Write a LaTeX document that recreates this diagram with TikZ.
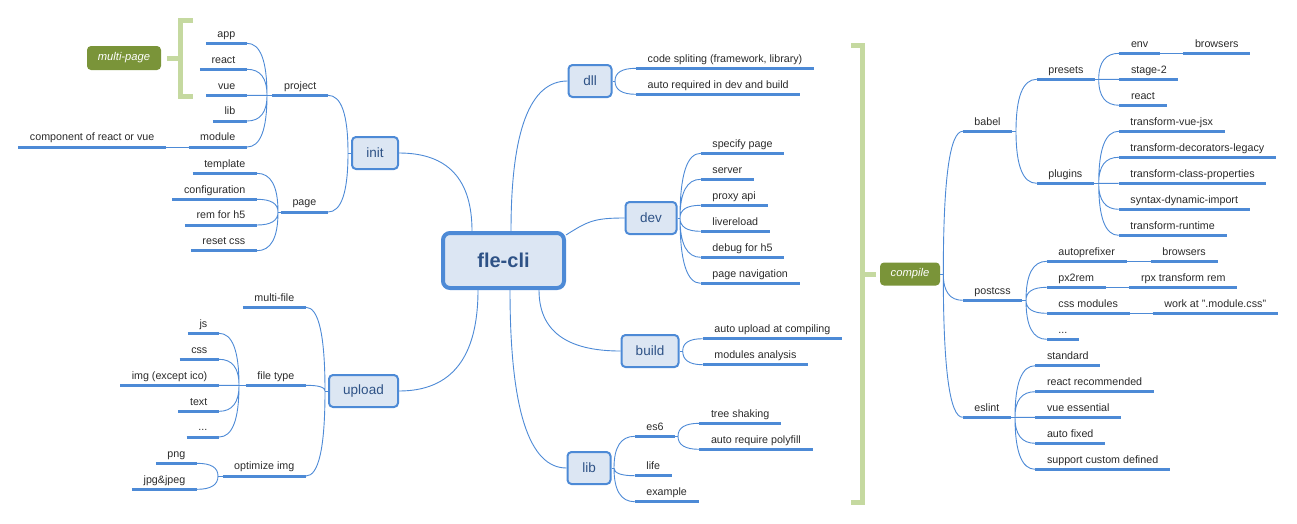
\documentclass[tikz,border=0pt]{standalone}
\usepackage{fontspec}
\setmainfont{Liberation Sans}
\usepackage{xcolor}
\usetikzlibrary{calc}
\definecolor{mapblue}{HTML}{4D8AD6}
\definecolor{boxfill}{HTML}{DCE6F3}
\definecolor{boxtext}{HTML}{2E5286}
\definecolor{leaftext}{HTML}{2A2A2A}
\definecolor{tagfill}{HTML}{7A9439}
\definecolor{bracketgreen}{HTML}{C5D9A0}
\tikzset{
  uline/.style={draw=mapblue, line width=3pt},
  leaf/.style={font=\fontsize{10.7}{12}\selectfont, text=leaftext, inner xsep=11.5pt, inner ysep=3.5pt,
    text height=8pt, text depth=2.5pt,
    append after command={(\tikzlastnode.south west) edge[uline] (\tikzlastnode.south east)}},
  link/.style={draw=mapblue, line width=.9pt, to path={.. controls
    ($(\tikztostart)!.667!(\tikztostart |- \tikztotarget)$) and
    ($(\tikztotarget)!.667!(\tikztostart |- \tikztotarget)$) .. (\tikztotarget)}},
  thin/.style={draw=mapblue, line width=.9pt},
  subbox/.style={draw=mapblue, fill=boxfill, line width=2pt, rounded corners=4pt, text=boxtext,
    font=\fontsize{13.5}{15}\selectfont, inner xsep=14pt, minimum height=32pt},
  rootbox/.style={draw=mapblue, fill=boxfill, line width=4pt, rounded corners=7pt, text=boxtext,
    font=\fontsize{20}{22}\selectfont\bfseries, minimum width=121pt, minimum height=55pt},
  tag/.style={fill=tagfill, rounded corners=4pt, text=white, font=\fontsize{11.2}{12}\selectfont\itshape},
  bracket/.style={draw=bracketgreen, line width=5pt}
}
\begin{document}
\begin{tikzpicture}[x=1pt, y=-1pt]
  \useasboundingbox (0,0) rectangle (1297,523);

  % centre and main topics
  \node[rootbox] (fle) at (503.5,260.5) {fle-cli};
  \node[subbox, minimum width=46pt] (init) at (375,153) {init};
  \node[subbox, minimum width=69pt] (upload) at (363.5,391) {upload};
  \node[subbox, minimum width=43pt] (dll) at (590,81) {dll};
  \node[subbox, minimum width=51pt] (dev) at (651,218) {dev};
  \node[subbox, minimum width=57pt] (build) at (650,351) {build};
  \node[subbox, minimum width=43pt] (lib) at (589,468) {lib};

  \draw[link] ([xshift=31pt]fle.north west) to (init.east);
  \draw[link] ([xshift=70pt]fle.north west) to (dll.west);
  \draw[thin] ([yshift=-4pt]fle.north east) .. controls +(22,-14) and +(-30,0) .. (dev.west);
  \draw[link] ([xshift=98pt]fle.south west) to (build.west);
  \draw[link] ([xshift=69pt]fle.south west) to (lib.west);
  \draw[link] ([xshift=37pt]fle.south west) to (upload.east);

  % init
  \coordinate (jinit) at (348,153);
  \node[leaf, anchor=south east] (project) at (328,95.3) {project};
  \node[leaf, anchor=south east] (page) at (328,212) {page};
  \draw[thin] (init.west) -- (jinit);
  \draw[link] (jinit) to (project.south east) (jinit) to (page.south east);

  \coordinate (jproject) at (267,95.3);
  \node[leaf, anchor=south east] (app) at (247,43.3) {app};
  \node[leaf, anchor=south east] (react) at (247,69.3) {react};
  \node[leaf, anchor=south east] (vue) at (247,95.3) {vue};
  \node[leaf, anchor=south east] (libproj) at (247,121) {lib};
  \node[leaf, anchor=south east] (module) at (247,147) {module};
  \node[leaf, anchor=south east] (component) at (166,147) {component of react or vue};
  \draw[thin] (project.south west) -- (jproject);
  \draw[link] (jproject) to (app.south east) (jproject) to (react.south east)
    (jproject) to (vue.south east) (jproject) to (libproj.south east) (jproject) to (module.south east);
  \draw[thin] (component.south east) -- (module.south west);

  \coordinate (jpage) at (278,212);
  \node[leaf, anchor=south east] (template) at (257,173.3) {template};
  \node[leaf, anchor=south east] (config) at (257,199.3) {configuration};
  \node[leaf, anchor=south east] (rem) at (257,225) {rem for h5};
  \node[leaf, anchor=south east] (reset) at (257,250.7) {reset css};
  \draw[thin] (page.south west) -- (jpage);
  \draw[link] (jpage) to (template.south east) (jpage) to (config.south east)
    (jpage) to (rem.south east) (jpage) to (reset.south east);

  % multi-page summary
  \node[tag, minimum width=74pt, minimum height=24pt] (multipage) at (124,58) {multi-page};
  \draw[bracket] (193,20.5) -- (180.5,20.5) -- (180.5,96.5) -- (193,96.5);
  \draw[bracket] (180.5,58) -- (166.5,58);

  % upload
  \coordinate (jupload) at (325,391);
  \node[leaf, anchor=south east] (multifile) at (306,307.3) {multi-file};
  \node[leaf, anchor=south east] (filetype) at (306,385.3) {file type};
  \node[leaf, anchor=south east] (optimg) at (306,476) {optimize img};
  \draw[thin] (upload.west) -- (jupload);
  \draw[link] (jupload) to (multifile.south east) (jupload) to (filetype.south east) (jupload) to (optimg.south east);

  \coordinate (jfiletype) at (239,385.3);
  \node[leaf, anchor=south east] (js) at (219,333.3) {js};
  \node[leaf, anchor=south east] (css) at (219,359.3) {css};
  \node[leaf, anchor=south east] (img) at (219,385.3) {img (except ico)};
  \node[leaf, anchor=south east] (text) at (219,411.3) {text};
  \node[leaf, anchor=south east] (etc) at (219,437) {...};
  \draw[thin] (filetype.south west) -- (jfiletype);
  \draw[link] (jfiletype) to (js.south east) (jfiletype) to (css.south east) (jfiletype) to (img.south east)
    (jfiletype) to (text.south east) (jfiletype) to (etc.south east);

  \coordinate (joptimg) at (218,476);
  \node[leaf, anchor=south east] (png) at (197,463.3) {png};
  \node[leaf, anchor=south east] (jpg) at (197,489.3) {jpg\&jpeg};
  \draw[thin] (optimg.south west) -- (joptimg);
  \draw[link] (joptimg) to (png.south east) (joptimg) to (jpg.south east);

  % dll
  \coordinate (jdll) at (615,81);
  \node[leaf, anchor=south west] (codesplit) at (636,68.3) {code spliting (framework, library)};
  \node[leaf, anchor=south west] (autoreq) at (636,94.3) {auto required in dev and build};
  \draw[thin] (dll.east) -- (jdll);
  \draw[link] (jdll) to (codesplit.south west) (jdll) to (autoreq.south west);

  % dev
  \coordinate (jdev) at (680,218);
  \node[leaf, anchor=south west] (specify) at (700.7,153.3) {specify page};
  \node[leaf, anchor=south west] (server) at (700.7,179.3) {server};
  \node[leaf, anchor=south west] (proxy) at (700.7,205.3) {proxy api};
  \node[leaf, anchor=south west] (livereload) at (700.7,231.3) {livereload};
  \node[leaf, anchor=south west] (debug) at (700.7,257.3) {debug for h5};
  \node[leaf, anchor=south west] (navigation) at (700.7,283.3) {page navigation};
  \draw[thin] (dev.east) -- (jdev);
  \draw[link] (jdev) to (specify.south west) (jdev) to (server.south west) (jdev) to (proxy.south west)
    (jdev) to (livereload.south west) (jdev) to (debug.south west) (jdev) to (navigation.south west);

  % build
  \coordinate (jbuild) at (682.7,351);
  \node[leaf, anchor=south west] (autoupload) at (702.7,338.7) {auto upload at compiling};
  \node[leaf, anchor=south west] (analysis) at (702.7,364.7) {modules analysis};
  \draw[thin] (build.east) -- (jbuild);
  \draw[link] (jbuild) to (autoupload.south west) (jbuild) to (analysis.south west);

  % lib
  \coordinate (jlib) at (614,468);
  \node[leaf, anchor=south west] (es6) at (634.7,436.3) {es6};
  \node[leaf, anchor=south west] (life) at (634.7,475.7) {life};
  \node[leaf, anchor=south west] (example) at (634.7,501.7) {example};
  \draw[thin] (lib.east) -- (jlib);
  \draw[link] (jlib) to (es6.south west) (jlib) to (life.south west) (jlib) to (example.south west);

  \coordinate (jes6) at (678,436.3);
  \node[leaf, anchor=south west] (treeshake) at (699.3,423.3) {tree shaking};
  \node[leaf, anchor=south west] (polyfill) at (699.3,449.3) {auto require polyfill};
  \draw[thin] (es6.south east) -- (jes6);
  \draw[link] (jes6) to (treeshake.south west) (jes6) to (polyfill.south west);

  % compile summary
  \draw[bracket] (851,45.5) -- (862.8,45.5) -- (862.8,502.5) -- (851,502.5);
  \draw[bracket] (862.8,274.3) -- (875.7,274.3);
  \node[tag, minimum width=60pt, minimum height=23pt] (compile) at (910,274) {compile};

  \coordinate (jcompile) at (943.3,274);
  \node[leaf, anchor=south west] (babel) at (962.7,131.3) {babel};
  \node[leaf, anchor=south west] (postcss) at (962.7,300.3) {postcss};
  \node[leaf, anchor=south west] (eslint) at (962.7,417.3) {eslint};
  \draw[thin] (compile.east) -- (jcompile);
  \draw[link] (jcompile) to (babel.south west) (jcompile) to (postcss.south west) (jcompile) to (eslint.south west);

  % babel
  \coordinate (jbabel) at (1016,131.3);
  \node[leaf, anchor=south west] (presets) at (1036.7,79.3) {presets};
  \node[leaf, anchor=south west] (plugins) at (1036.7,183.3) {plugins};
  \draw[thin] (babel.south east) -- (jbabel);
  \draw[link] (jbabel) to (presets.south west) (jbabel) to (plugins.south west);

  \coordinate (jpresets) at (1098.7,79.3);
  \node[leaf, anchor=south west] (env) at (1119.3,53.3) {env};
  \node[leaf, anchor=south west] (envbrowsers) at (1183.3,53.3) {browsers};
  \node[leaf, anchor=south west] (stage) at (1119.3,79.3) {stage-2};
  \node[leaf, anchor=south west] (reactpre) at (1119.3,105.3) {react};
  \draw[thin] (presets.south east) -- (jpresets);
  \draw[link] (jpresets) to (env.south west) (jpresets) to (stage.south west) (jpresets) to (reactpre.south west);
  \draw[thin] (env.south east) -- (envbrowsers.south west);

  \coordinate (jplugins) at (1098.7,183.3);
  \node[leaf, anchor=south west] (vuejsx) at (1118.7,131.3) {transform-vue-jsx};
  \node[leaf, anchor=south west] (decorators) at (1118.7,157.3) {transform-decorators-legacy};
  \node[leaf, anchor=south west] (classprops) at (1118.7,183.3) {transform-class-properties};
  \node[leaf, anchor=south west] (dynimport) at (1118.7,209.3) {syntax-dynamic-import};
  \node[leaf, anchor=south west] (runtime) at (1118.7,235.3) {transform-runtime};
  \draw[thin] (plugins.south east) -- (jplugins);
  \draw[link] (jplugins) to (vuejsx.south west) (jplugins) to (decorators.south west) (jplugins) to (classprops.south west)
    (jplugins) to (dynimport.south west) (jplugins) to (runtime.south west);

  % postcss
  \coordinate (jpostcss) at (1026,300.3);
  \node[leaf, anchor=south west] (autoprefixer) at (1046.7,261.3) {autoprefixer};
  \node[leaf, anchor=south west] (apbrowsers) at (1150.7,261.3) {browsers};
  \node[leaf, anchor=south west] (pxrem) at (1046.7,287.3) {px2rem};
  \node[leaf, anchor=south west] (rpx) at (1129.3,287.3) {rpx transform rem};
  \node[leaf, anchor=south west] (cssmodules) at (1046.7,313.3) {css modules};
  \node[leaf, anchor=south west] (workat) at (1152.7,313.3) {work at ".module.css"};
  \node[leaf, anchor=south west] (postetc) at (1046.7,339.3) {...};
  \draw[thin] (postcss.south east) -- (jpostcss);
  \draw[link] (jpostcss) to (autoprefixer.south west) (jpostcss) to (pxrem.south west)
    (jpostcss) to (cssmodules.south west) (jpostcss) to (postetc.south west);
  \draw[thin] (autoprefixer.south east) -- (apbrowsers.south west);
  \draw[thin] (pxrem.south east) -- (rpx.south west);
  \draw[thin] (cssmodules.south east) -- (workat.south west);

  % eslint
  \coordinate (jeslint) at (1015,417.3);
  \node[leaf, anchor=south west] (standard) at (1035.3,365.7) {standard};
  \node[leaf, anchor=south west] (reactrec) at (1035.3,391.7) {react recommended};
  \node[leaf, anchor=south west] (vueess) at (1035.3,417.3) {vue essential};
  \node[leaf, anchor=south west] (autofix) at (1035.3,443.3) {auto fixed};
  \node[leaf, anchor=south west] (custom) at (1035.3,469.3) {support custom defined};
  \draw[thin] (eslint.south east) -- (jeslint);
  \draw[link] (jeslint) to (standard.south west) (jeslint) to (reactrec.south west) (jeslint) to (vueess.south west)
    (jeslint) to (autofix.south west) (jeslint) to (custom.south west);
\end{tikzpicture}
\end{document}
